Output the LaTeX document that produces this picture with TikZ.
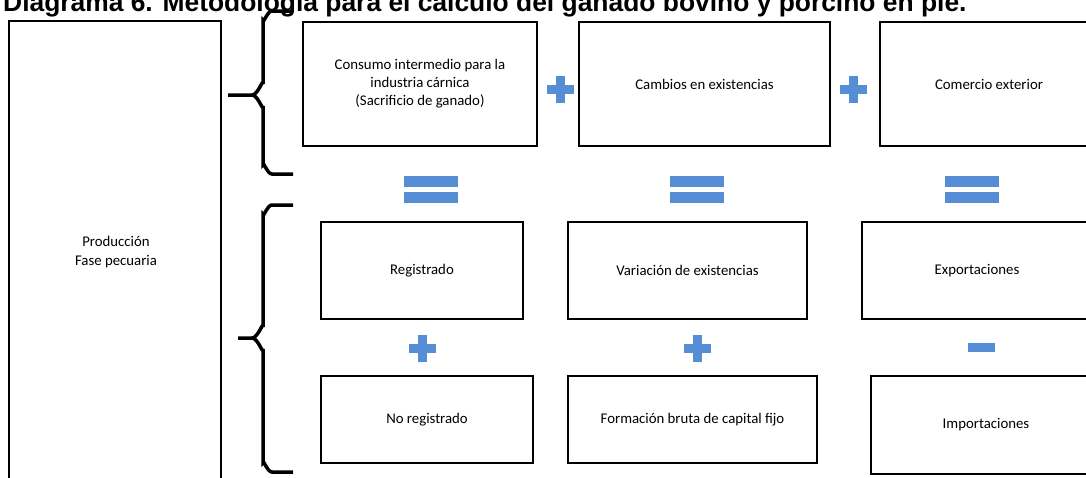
\documentclass[tikz,border=0pt]{standalone}
\usepackage{fontspec}
\setmainfont{Carlito}
\newfontfamily\titlefont{Liberation Sans}
\definecolor{opblue}{RGB}{85,142,213}
\tikzset{
  boxfont/.style={font=\fontsize{14.8}{18}\selectfont},
  box/.style={draw=black, line width=1.6pt, inner sep=0pt, align=center, boxfont},
  brace/.style={draw=black, line width=3.5pt},
  plussign/.pic={\fill[opblue] (-13.5,-4.5) rectangle (13.5,4.5);
                 \fill[opblue] (-4.5,-13.5) rectangle (4.5,13.5);},
  minussign/.pic={\fill[opblue] (-13.5,-4.5) rectangle (13.5,4.5);},
  equalsign/.pic={\fill[opblue] (-27,-13.5) rectangle (27,-2.5);
                  \fill[opblue] (-27,2.5) rectangle (27,13.5);}
}
\newcommand{\boxat}[6]{%
  \node[box, minimum width=#4pt-#2pt, minimum height=#5pt-#3pt] (#1)
    at ({(#2+#4)/2},{(#3+#5)/2}) {#6};}
\begin{document}
\begin{tikzpicture}[x=1pt,y=-1pt]
\useasboundingbox (0,0) rectangle (1086,477);
\fill[white] (0,0) rectangle (1086,477);
% title
\node[anchor=base west, inner sep=0pt, font=\titlefont\bfseries\fontsize{26.4}{30}\selectfont] (title) at (3,11.5)
  {Diagrama 6. Metodología para el cálculo del ganado bovino y porcino en pie.};
% left box
\boxat{prod}{9}{21}{221}{495}{}
\node[font=\fontsize{14.8}{19}\selectfont, align=center] (prodtxt) at (116,252) {Producción\\Fase pecuaria};
% top row
\boxat{consumo}{303}{22}{537}{146}{Consumo intermedio para la\\industria cárnica\\(Sacrificio de ganado)}
\boxat{cambios}{579}{22}{830}{146}{Cambios en existencias}
\boxat{comercio}{880}{22}{1098}{146}{Comercio exterior}
% second row
\boxat{reg}{321}{222}{523}{319}{Registrado}
\boxat{var}{568}{222}{807}{319}{Variación de existencias}
\boxat{exp}{862}{222}{1092}{319}{Exportaciones}
% third row
\boxat{noreg}{321}{376}{533}{463}{No registrado}
\boxat{fbcf}{568}{376}{817}{463}{Formación bruta de capital fijo}
\boxat{imp}{871}{376}{1101}{474}{Importaciones}
% operators
\pic at (560,89) {plussign};
\pic at (853,89) {plussign};
\pic at (431,189.5) {equalsign};
\pic at (697,189.5) {equalsign};
\pic at (972,189.5) {equalsign};
\pic at (422,348) {plussign};
\pic at (697,348) {plussign};
\pic at (981.5,347.5) {minussign};
% braces
\draw[brace] (293,11) -- (272,11) to[out=180,in=-90] (263,20) -- (263,84)
  to[out=90,in=0] (252,95) -- (228,95);
\draw[brace] (293,174) -- (272,174) to[out=180,in=90] (263,165) -- (263,106)
  to[out=-90,in=0] (252,95);
\draw[brace] (293,205) -- (272,205) to[out=180,in=-90] (263,214) -- (263,327)
  to[out=90,in=0] (252,338) -- (238,338);
\draw[brace] (293,472) -- (272,472) to[out=180,in=90] (263,463) -- (263,349)
  to[out=-90,in=0] (252,338);
\end{tikzpicture}
\end{document}
